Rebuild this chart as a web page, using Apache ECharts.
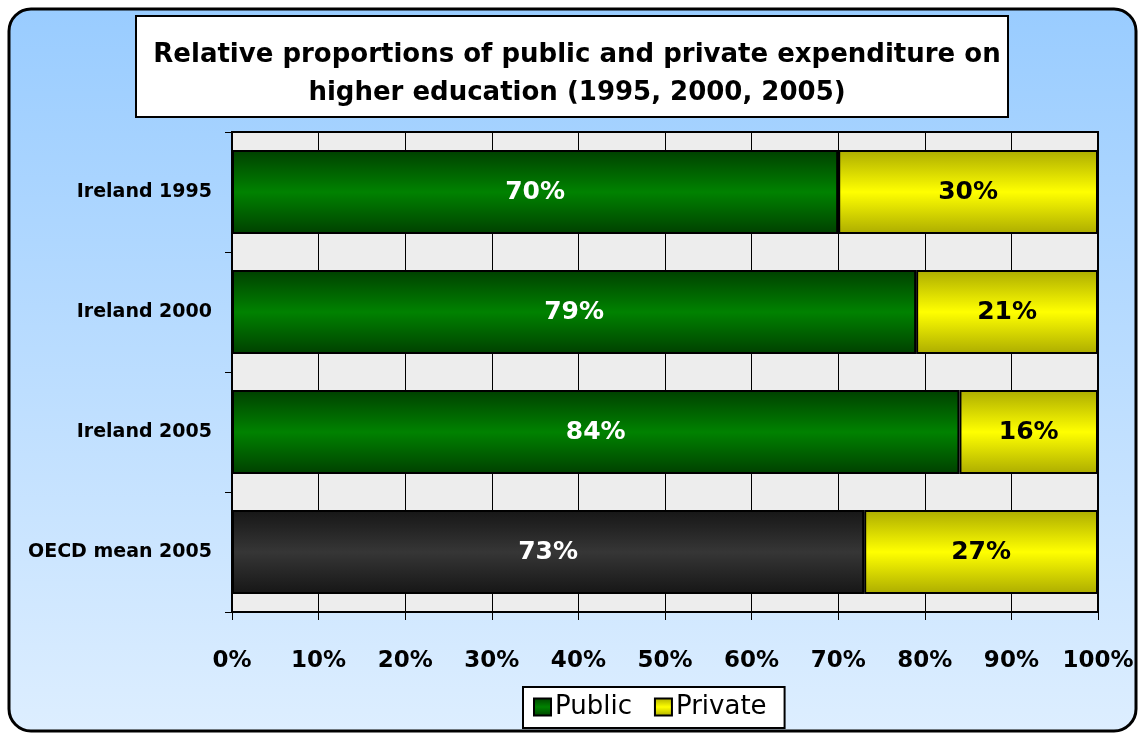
<!DOCTYPE html>
<html>
<head>
<meta charset="utf-8">
<script src="https://cdn.jsdelivr.net/npm/echarts@6/dist/echarts.min.js"></script>
<style>
  html, body { margin: 0; padding: 0; background: #fff; }
  #chart { width: 1140px; height: 733px; }
</style>
</head>
<body>
<div id="chart"></div>
<script>
var categories = ['Ireland 1995', 'Ireland 2000', 'Ireland 2005', 'OECD mean 2005'];
var publicShare = [70, 79, 84, 73];
var privateShare = [30, 21, 16, 27];
var xTicks = [0, 10, 20, 30, 40, 50, 60, 70, 80, 90, 100];

var font = 'DejaVu Sans';

function vgrad(edge, mid) {
  return new echarts.graphic.LinearGradient(0, 0, 0, 1, [
    { offset: 0, color: edge },
    { offset: 0.5, color: mid },
    { offset: 1, color: edge }
  ]);
}

var publicData = publicShare.map(function (v, i) {
  if (categories[i].indexOf('OECD') === 0) {
    return { value: v, itemStyle: { color: vgrad('#161616', '#363636') } };
  }
  return v;
});

var chart = echarts.init(document.getElementById('chart'));
var option = {
  animation: false,
  backgroundColor: '#ffffff',
  graphic: [
    {
      type: 'rect',
      z: -10,
      shape: { x: 9, y: 9, width: 1127, height: 722, r: 22 },
      style: {
        fill: new echarts.graphic.LinearGradient(0, 0, 0, 1, [
          { offset: 0, color: '#99CCFF' },
          { offset: 1, color: '#DDEEFF' }
        ]),
        stroke: '#000',
        lineWidth: 3
      }
    },
    {
      type: 'rect',
      z: -5,
      shape: { x: 136, y: 16, width: 872, height: 101 },
      style: { fill: '#fff', stroke: '#000', lineWidth: 2 }
    }
  ],
  title: {
    text: 'Relative proportions of public and private expenditure on\nhigher education (1995, 2000, 2005)',
    left: 572,
    top: 31,
    textAlign: 'center',
    textStyle: {
      fontFamily: font,
      fontSize: 26,
      fontWeight: 'bold',
      color: '#000',
      lineHeight: 38
    }
  },
  legend: {
    data: ['Public', 'Private'],
    left: 523,
    top: 687,
    backgroundColor: '#fff',
    borderColor: '#000',
    borderWidth: 2,
    borderRadius: 0,
    padding: [7, 18, 8, 10],
    itemGap: 22,
    itemWidth: 17,
    itemHeight: 17,
    icon: 'rect',
    textStyle: { fontFamily: font, fontSize: 26, color: '#000', padding: [0, 0, 0, -1] }
  },
  grid: {
    left: 232,
    top: 132,
    width: 866,
    height: 480,
    show: true,
    backgroundColor: '#EDEDED',
    borderColor: '#000',
    borderWidth: 2
  },
  xAxis: {
    type: 'value',
    min: 0,
    max: 100,
    interval: 10,
    axisLine: { show: true, lineStyle: { color: '#000', width: 2 } },
    axisTick: { show: true, length: 8, lineStyle: { color: '#000' } },
    splitLine: { show: true, lineStyle: { color: '#000', width: 1 } },
    axisLabel: {
      margin: 38,
      fontFamily: font,
      fontSize: 23,
      fontWeight: 'bold',
      color: '#000',
      formatter: function (v) { return xTicks.indexOf(v) >= 0 ? v + '%' : ''; }
    }
  },
  yAxis: {
    type: 'category',
    inverse: true,
    data: categories,
    axisLine: { show: true, lineStyle: { color: '#000', width: 2 } },
    axisTick: { show: true, length: 7, lineStyle: { color: '#000' } },
    axisLabel: {
      margin: 20,
      fontFamily: font,
      fontSize: 19,
      fontWeight: 'bold',
      color: '#000'
    }
  },
  series: [
    {
      name: 'Public',
      type: 'bar',
      stack: 'total',
      barWidth: 84,
      data: publicData,
      itemStyle: { color: vgrad('#004000', '#008200'), borderColor: '#000', borderWidth: 2 },
      label: {
        show: true,
        position: 'inside',
        formatter: '{c}%',
        fontFamily: font,
        fontSize: 25,
        fontWeight: 'bold',
        color: '#fff'
      }
    },
    {
      name: 'Private',
      type: 'bar',
      stack: 'total',
      barWidth: 84,
      data: privateShare,
      itemStyle: { color: vgrad('#ACAC00', '#FFFF00'), borderColor: '#000', borderWidth: 2 },
      label: {
        show: true,
        position: 'inside',
        formatter: '{c}%',
        fontFamily: font,
        fontSize: 25,
        fontWeight: 'bold',
        color: '#000'
      }
    }
  ]
};
chart.setOption(option);
</script>
</body>
</html>
